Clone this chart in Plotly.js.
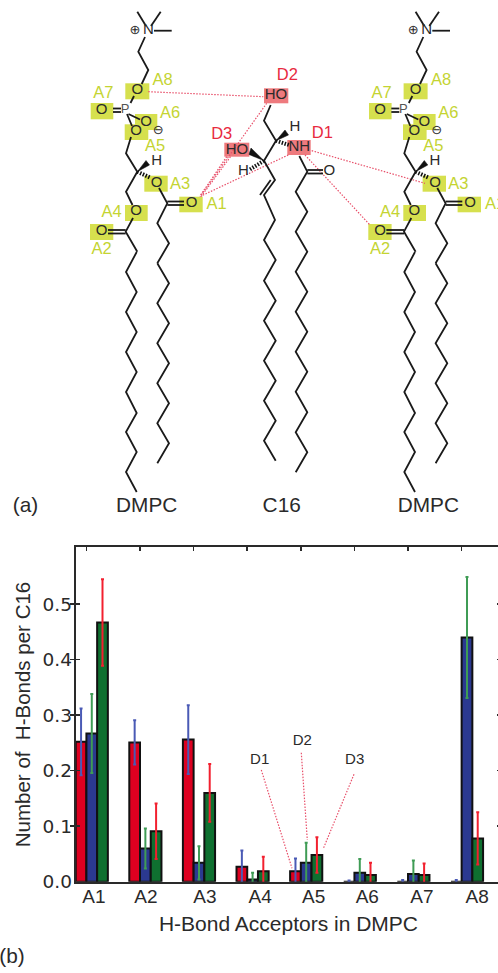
<!DOCTYPE html>
<html>
<head>
<meta charset="utf-8">
<script src="https://cdn.plot.ly/plotly-3.0.1.min.js"></script>
<style>
html,body{margin:0;padding:0;background:#fff;width:498px;height:973px;overflow:hidden}
#chart{width:510px;height:973px}
</style>
</head>
<body>
<div id="chart"></div>
<script>
// ---------- panel (b): bar chart values ----------
const categories = ['A1','A2','A3','A4','A5','A6','A7','A8'];
const groupIndex = [0,1,2,3,4,5,6,7];
const d1Values = [0.252,0.251,0.256,0.027,0.019,0,0,0];
const d2Values = [0.267,0.060,0.034,0.004,0.034,0.016,0.014,0.440];
const d3Values = [0.467,0.091,0.160,0.019,0.048,0.012,0.012,0.078];
const d1Errors = [0.060,0.040,0.062,0.029,0.023,0.002,0.003,0.003];
const d2Errors = [0.071,0.036,0.030,0.012,0.036,0.025,0.024,0.109];
const d3Errors = [0.078,0.050,0.052,0.026,0.032,0.022,0.021,0.047];
const yTicks = [0,0.1,0.2,0.3,0.4,0.5];
const yTickText = ['0.0','0.1','0.2','0.3','0.4','0.5'];
const xLabelPositions = [0.34,1.31,2.41,3.44,4.44,5.44,6.46,7.49];

// ---------- panel (a): structure drawing, page-pixel drawing space ----------
const dmpcBonds = [
 [[137.3,11.7],[146,26]],[[160.7,11.7],[151,26]],[[171.7,30.7],[154,30.7]],
 [[145,37],[138.3,51.7],[148.3,70],[141.7,84]],
 [[134,96],[130.5,103]],
 [[113,108.5],[121,108.5]],[[113,112],[121,112]],
 [[128.5,114],[140,119.5]],[[127,114],[132,126]],
 [[131,137],[126,153.3],[137.3,171.7],[126,191.7],[132.5,205]],
 [[133,218],[125.7,231.7],[137.3,251.7]],
 [[108,230],[125.7,230]],[[108,233.5],[125.7,233.5]],
 [[159,188],[167.3,203.3],[157.3,223.3],[169,243.3],[157.3,263.3]],
 [[167.3,201.5],[184,201.5]],[[167.3,205],[184,205]],
 [[136.7,252],[126,272],[136.7,292],[126,312],[136.7,332],[126,352],[136.7,372],[126,392],[136.7,413],[126,432],[136.7,452],[126,472],[136.7,492]],
 [[157.3,263.3],[169,283.3],[157.3,303.3],[169,323.3],[157.3,343.3],[169,363.3],[157.3,383.3],[169,403.3],[157.3,423.3],[169,443.3],[157.3,463.3]]
];
const dmpcWedge = [[137.3,171.7],[146,160.5],[149.5,165],[137.3,171.7]];
const dmpcHash = [[[137.3,171.7],[150,177.5]]];
const dmpcShift = 278.3;
const c16Bonds = [
 [[270.7,105],[264,120.7],[276,140.7],[264,160.7],[275,180],[264,195],[275,220],[264,240],[275.7,260],[264,280.7],[275.7,300.7],[264,320.7],[275.7,340.7],[264,360.7],[275.7,380.7],[264,400.7],[275.7,420.7],[264,440.7],[275.7,460.7]],
 [[270.7,180],[260,195]],
 [[299.3,156],[307.3,171.7],[295.7,191.7],[307.3,211.7],[295.7,231.7],[307.3,251.7],[295.7,271.7],[307.3,291.7],[295.7,311.7],[307.3,331.7],[295.7,351.7],[307.3,371.7],[295.7,391.7],[307.3,412.3],[295.7,432.3],[307.3,452.3],[295.7,472.3]],
 [[307.3,170],[323,170]],[[307.3,173.5],[323,173.5]]
];
const c16Wedges = [
 [[276,140.7],[285,130],[288.5,135],[276,140.7]],
 [[264,160.7],[251,148],[249,154.5],[264,160.7]]
];
const c16Hashes = [[[276,140.7],[289,145]],[[264,160.7],[249,170]]];
const hBondLines = [
 [[148.3,91.7],[263.3,96.7]],[[266.7,103.3],[200,196.7]],[[226.7,156.7],[200,196]],[[230.5,156.7],[201,196.7]],
 [[288.3,155],[201.7,195.7]],[[311.7,150.7],[425,183.3]],[[305,155],[370,225]],
 [[261.3,770],[292,868.3]],[[301.3,752.7],[307.3,840]],[[354,774.3],[323,849.3]]
];
const acceptorBoxes = [
 [125.3,83.3,149.3,99.3],[90.7,103,113.3,119.3],[135,114,157.3,130],[124.7,124.3,148.3,140],
 [144.3,175.7,167.7,191.7],[179.3,196.7,202.7,212.3],[125,205,147.7,221],[90,224,113.3,240]
];
const donorBoxes = [[264,88.3,288.3,103.3],[224.3,142.7,249.3,156.7],[287.3,140,310.7,155]];

const dmpcAtoms = [['N',148.3,30.7],['O',137.3,90.7],['O',101.7,110.7],['O',146,122],['O',136,131.7],['O',156.7,183.3],['O',191.7,203.3],['O',136,211.7],['O',101.7,231.7],['H',156.7,161]];
const dmpcP = [['P',125,110]];
const dmpcCharges = [['⊕',135,30.7],['⊖',158.3,130.7]];
const acceptorLabels = [['A8',162.7,81],['A7',103.3,94],['A6',170,114],['A5',155,147],['A3',180,185],['A1',216.7,205],['A4',111.7,213],['A2',101.7,250]];
const c16Atoms = [['HO',276,95.7],['HO',237,150],['NH',299.3,147.3],['H',295,127.7],['H',243.3,171.7],['O',329.3,171.7]];
const donorLabels = [['D2',287.3,76],['D3',221.7,135],['D1',322.3,134]];
const figureLabels = [['(a)',25.5,506.7],['DMPC',146.7,506.7],['C16',281.7,506.7],['DMPC',428.3,506.7],['(b)',12,958]];
const chartNotes = [['D1',259.7,760],['D2',302.3,741],['D3',354.7,760]];

// ---------- colours ----------
const RED='#dd0020', BLUE='#2b3990', GREEN='#0f7030';
const ERR_BLUE='#4a5ab5', ERR_GREEN='#3f9c55', ERR_RED='#f2202f';
const INK='#2a2a2a', YELLOW='#d6e04e', LIME='#c4d432', PINK='#ee7a7e', DRED='#e82a40', DOT='#e8506a';

function bar(name, vals, errs, color, errColor, off){
  return {type:'bar', name, x:groupIndex.map(i=>i+off), y:vals, width:0.2, xaxis:'x', yaxis:'y',
    cliponaxis:false,
    marker:{color, line:{color:'#111', width:2}},
    error_y:{type:'data', array:errs, visible:true, color:errColor, thickness:2, width:1.5}};
}
function lines(list, color, width, dash, shift){
  const xs=[], ys=[];
  list.forEach(pl=>{ pl.forEach(p=>{xs.push(p[0]+(shift||0)); ys.push(p[1]);}); xs.push(null); ys.push(null); });
  return {type:'scatter', mode:'lines', x:xs, y:ys, xaxis:'x2', yaxis:'y2',
    line:{color, width, dash:dash||'solid'}, connectgaps:false};
}
function fillPoly(poly, shift){
  return {type:'scatter', mode:'lines', x:poly.map(p=>p[0]+(shift||0)), y:poly.map(p=>p[1]), xaxis:'x2', yaxis:'y2',
    fill:'toself', fillcolor:'#111', line:{color:'#111', width:0.5}};
}
function texts(list, family, size, color, shift){
  return {type:'scatter', mode:'text', x:list.map(t=>t[1]+(shift||0)), y:list.map(t=>t[2]), text:list.map(t=>t[0]),
    xaxis:'x2', yaxis:'y2', textposition:'middle center', textfont:{family, size, color}, cliponaxis:false};
}
const SANS='Liberation Sans', VERA='DejaVu Sans';

const boxShape=(b,color,shift)=>({type:'rect', xref:'x2', yref:'y2', layer:'below', x0:b[0]+shift, y0:b[1], x1:b[2]+shift, y1:b[3],
  fillcolor:color, line:{width:0}});

const traces=[
  bar('D1',d1Values,d1Errors,RED,ERR_BLUE,0.1),
  bar('D2',d2Values,d2Errors,BLUE,ERR_GREEN,0.3),
  bar('D3',d3Values,d3Errors,GREEN,ERR_RED,0.5),
  {type:'scatter', mode:'markers', x:[0], y:[0], xaxis:'x3', yaxis:'y', marker:{opacity:0}},
  lines(hBondLines,DOT,1.2,'1.5px,1.5px'),
  lines(dmpcBonds,'#1a1a1a',1.8,null,0),
  lines(dmpcBonds,'#1a1a1a',1.8,null,dmpcShift),
  lines(c16Bonds,'#1a1a1a',1.8),
  fillPoly(dmpcWedge,0), fillPoly(dmpcWedge,dmpcShift),
  ...c16Wedges.map(w=>fillPoly(w)),
  lines(dmpcHash,'#111',4,'1.5px,1.5px',0),
  lines(dmpcHash,'#111',4,'1.5px,1.5px',dmpcShift),
  lines(c16Hashes,'#111',4,'1.5px,1.5px'),
  texts(dmpcAtoms,SANS,15,INK,0), texts(dmpcAtoms,SANS,15,INK,dmpcShift),
  texts(dmpcP,SANS,13,'#555',0), texts(dmpcP,SANS,13,'#555',dmpcShift),
  texts(dmpcCharges,VERA,13,INK,0), texts(dmpcCharges,VERA,13,INK,dmpcShift),
  texts(acceptorLabels,SANS,16.5,LIME,0), texts(acceptorLabels,SANS,16.5,LIME,dmpcShift),
  texts(c16Atoms,SANS,15,INK),
  texts(donorLabels,SANS,16.5,DRED),
  texts(figureLabels,SANS,20.8,INK),
  texts(chartNotes,SANS,15,INK)
];

const H=973, W=510;
const xRange=[0,7.94];
const layout={
  width:W, height:H, margin:{l:0,r:0,t:0,b:0}, showlegend:false, hovermode:false,
  paper_bgcolor:'#fff', plot_bgcolor:'rgba(0,0,0,0)', barmode:'overlay',
  xaxis:{domain:[75.7/W,501.3/W], range:xRange, anchor:'y', tickmode:'array', tickvals:xLabelPositions, ticktext:categories,
    ticks:'', showgrid:false, zeroline:false, showline:true, linecolor:'#2a2a2a', linewidth:2, mirror:true,
    tickfont:{family:SANS,size:19,color:INK}, ticklabelstandoff:-4,
    title:{text:'H-Bond Acceptors in DMPC', font:{family:SANS,size:21,color:INK}, standoff:11}},
  xaxis3:{overlaying:'x', side:'top', anchor:'y', range:xRange, tickmode:'array', tickvals:groupIndex.map(i=>i+0.2),
    ticks:'inside', ticklen:4, tickwidth:1.5, tickcolor:'#2a2a2a', showticklabels:false, showgrid:false, zeroline:false, showline:false},
  yaxis:{domain:[(H-881.7)/H,(H-547.3)/H], range:[0,0.6025], anchor:'x', tickmode:'array', tickvals:yTicks, ticktext:yTickText,
    ticks:'inside', ticklen:4, tickwidth:1.5, tickcolor:'#2a2a2a', showgrid:false, zeroline:false, showline:true, linecolor:'#2a2a2a', linewidth:2, mirror:'allticks',
    tickfont:{family:VERA,size:18.5,color:INK}, ticklabelstandoff:-2,
    title:{text:'Number of\u00a0 H-Bonds per C16\u00a0\u00a0\u00a0', font:{family:SANS,size:20.5,color:INK}, standoff:6}},
  xaxis2:{domain:[0,1], range:[0,W], anchor:'y2', visible:false, fixedrange:true},
  yaxis2:{domain:[0,1], range:[H,0], anchor:'x2', visible:false, fixedrange:true},
  shapes:[
    ...acceptorBoxes.map(b=>boxShape(b,YELLOW,0)),
    ...acceptorBoxes.map(b=>boxShape(b,YELLOW,dmpcShift)),
    ...donorBoxes.map(b=>boxShape(b,PINK,0))
  ]
};
Plotly.newPlot('chart',traces,layout,{displayModeBar:false,staticPlot:true});
</script>
</body>
</html>
